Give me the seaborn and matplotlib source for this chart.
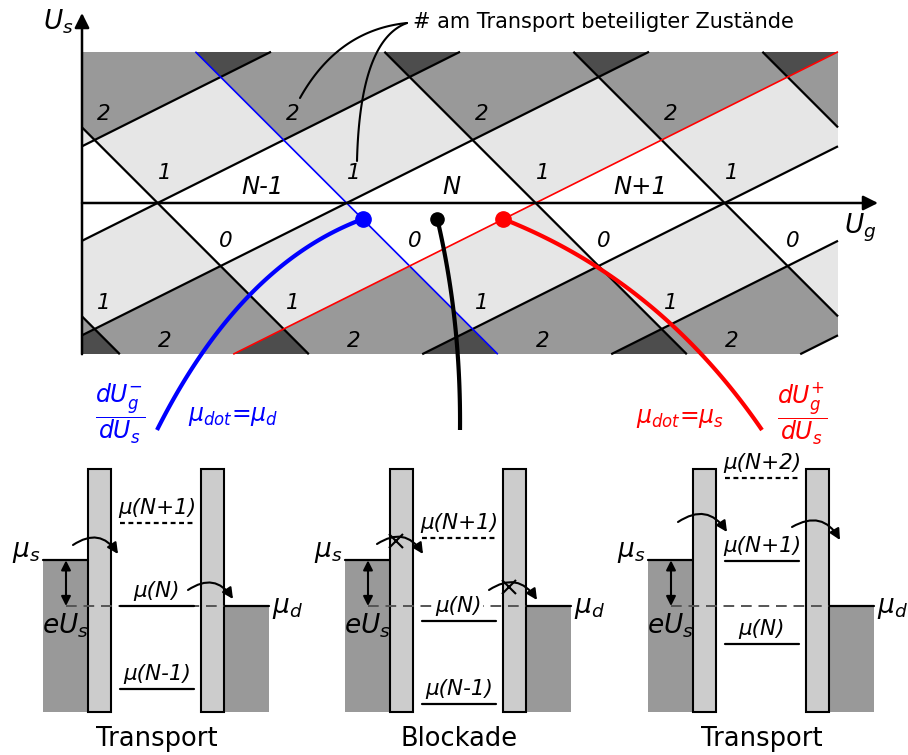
import numpy as np
import pandas as pd
import matplotlib
matplotlib.use("Agg")
import matplotlib.pyplot as plt
import seaborn as sns
from matplotlib.patches import Polygon, Rectangle, FancyArrowPatch

sns.set_theme(style="white")
plt.rcParams["font.family"] = ["DejaVu Sans"]
plt.rcParams["mathtext.fontset"] = "dejavusans"
plt.rcParams["text.color"] = "black"

# ---------------- stability diagram data (Ug, Us in units of one gate period) ----------------
degeneracy_ug = [-2.6, -1.6, -0.6, 0.4, 1.4, 2.4, 3.4, 4.4, 5.4]
ug_range = [0.0, 4.0]
us_range = [-0.8, 0.8]
slope_source = 0.5     # edges where mu_dot = mu_s
slope_drain = -1.0     # edges where mu_dot = mu_d
drain_edge_blue = 1.4  # highlighted mu_dot = mu_d edge
source_edge_red = 2.4  # highlighted mu_dot = mu_s edge
charge_labels = ["N-1", "N", "N+1"]
state_colors = {0: "#ffffff", 1: "#e6e6e6", 2: "#999999", 3: "#4d4d4d"}
probe_us = -0.085
probe_black_ug = 1.88

# ---------------- energy diagrams (energies in units of the charging energy) ----------------
panel_titles = ["Transport", "Blockade", "Transport"]
eU_s = 0.55
mu_N = [0.0, -0.18, -0.46]
panel_charges = [[-1, 0, 1], [-1, 0, 1], [0, 1, 2]]
panel_blocked = [False, True, False]

# ---------------- layout ----------------
X0, Y0, S = 82.0, 203.0, 189.0      # origin and pixel scale of stability diagram
E0, ES = 606.0, 83.0                # drain level and pixel scale of energy diagrams
panel_left = [43, 345, 648]


def px(ug, us):
    return X0 + S * np.asarray(ug, float), Y0 - S * np.asarray(us, float)


def ey(e):
    return E0 - ES * np.asarray(e, float)


def bezier(p0, p1, p2, n=80):
    t = np.linspace(0, 1, n)[:, None]
    p0, p1, p2 = map(np.asarray, (p0, p1, p2))
    pts = (1 - t) ** 2 * p0 + 2 * (1 - t) * t * p1 + t ** 2 * p2
    return pts[:, 0], pts[:, 1]


def n_states(ug, us):
    p = ug - us / slope_source
    q = ug - us / slope_drain
    lo, hi = min(p, q), max(p, q)
    return sum(1 for c in degeneracy_ug if lo < c < hi)


fig = plt.figure(figsize=(9.08, 7.55), dpi=100)
ax = fig.add_axes([0, 0, 1, 1])

# clip rectangle of the stability diagram
rx0, ry_top = px(ug_range[0], us_range[1])
rx1, ry_bot = px(ug_range[1], us_range[0])
clip = Rectangle((rx0, ry_top), rx1 - rx0, ry_bot - ry_top, transform=ax.transData,
                 fc="none", ec="none")
ax.add_patch(clip)

# shaded cells: number of charge states taking part in transport
c = degeneracy_ug
for i in range(len(c) - 1):
    for j in range(len(c) - 1):
        corners = [(c[i], c[j]), (c[i + 1], c[j]), (c[i + 1], c[j + 1]), (c[i], c[j + 1])]
        pts = []
        for p, q in corners:
            us = (q - p) / (1 / slope_source - 1 / slope_drain)
            ug = p + us / slope_source
            pts.append(px(ug, us))
        k = min(abs(i - j), 3)
        poly = Polygon(np.array(pts, float), closed=True, fc=state_colors[k], ec="none",
                       zorder=1)
        ax.add_patch(poly)
        poly.set_clip_path(clip)

# edge lines of the diamonds
rows = []
lid = 0
for cc in degeneracy_ug:
    for slope, skip in ((slope_source, source_edge_red), (slope_drain, drain_edge_blue)):
        if np.isclose(cc, skip):
            continue
        span = abs(us_range[1] / slope)
        a, b = max(ug_range[0], cc - span), min(ug_range[1], cc + span)
        if a >= b:
            continue
        for ug in (a, b):
            x, y = px(ug, slope * (ug - cc))
            rows.append({"x": float(x), "y": float(y), "line": lid})
        lid += 1
edges = pd.DataFrame(rows)
sns.lineplot(data=edges, x="x", y="y", units="line", estimator=None, sort=False,
             color="black", lw=1.6, solid_capstyle="butt", ax=ax, zorder=2)

for cc, slope, col in ((drain_edge_blue, slope_drain, "#0000ff"),
                       (source_edge_red, slope_source, "#ff0000")):
    span = abs(us_range[1] / slope)
    ugs = np.array([max(ug_range[0], cc - span), min(ug_range[1], cc + span)])
    x, y = px(ugs, slope * (ugs - cc))
    ax.plot(x, y, color=col, lw=1.2, solid_capstyle="butt", zorder=3)

# axes with arrows
ax.annotate("", xy=(878, Y0), xytext=(X0, Y0),
            arrowprops=dict(arrowstyle="-|>", color="black", lw=1.8, mutation_scale=22,
                            shrinkA=0, shrinkB=0), zorder=4)
ax.annotate("", xy=(X0, 13), xytext=(X0, ry_bot),
            arrowprops=dict(arrowstyle="-|>", color="black", lw=1.8, mutation_scale=22,
                            shrinkA=0, shrinkB=0), zorder=4)
ax.text(58, 22, r"$U_s$", fontsize=19, ha="center", va="center")
ax.text(860, 228, r"$U_g$", fontsize=19, ha="center", va="center")

# state-count labels around each degeneracy point
label_offsets = [(-0.286, 0.471), (0.037, 0.159), (0.36, -0.201), (-0.286, -0.529),
                 (0.037, -0.730)]
for cc in degeneracy_ug:
    for dx, us in label_offsets:
        ug = cc + dx
        if not (ug_range[0] < ug < ug_range[1]):
            continue
        x, y = px(ug, us)
        ax.text(x, y, str(n_states(ug, us)), fontsize=15.5, style="italic",
                ha="center", va="center", zorder=5)

# charge-state labels in the Coulomb diamonds
mids = [0.5 * (degeneracy_ug[k] + degeneracy_ug[k + 1]) for k in range(3, 6)]
for m, lab in zip(mids, charge_labels):
    x, y = px(m, 0.085)
    ax.text(x + 10, y, lab, fontsize=17.5, style="italic", ha="center", va="center",
            zorder=5)

# annotation of the state numbers
ax.text(413, 22, "# am Transport beteiligter Zustände", fontsize=15, ha="left",
        va="center")
for p0, p1 in (((300, 98), (338, 30)), ((357, 161), (360, 40))):
    x, y = bezier(p0, p1, (407, 23))
    ax.plot(x, y, color="black", lw=1.5, zorder=5)

# probe points and connectors to the energy diagrams
blue_ug = drain_edge_blue + probe_us / slope_drain
red_ug = source_edge_red + probe_us / slope_source
bx, by = px(blue_ug, probe_us)
kx, ky = px(probe_black_ug, probe_us)
qx, qy = px(red_ug, probe_us)
for (sx, sy), ctrl, end, col in (((bx, by), (240, 265), (157, 430), "#0000ff"),
                                 ((kx, ky), (461, 320), (460, 430), "black"),
                                 ((qx, qy), (660, 281), (762, 430), "#ff0000")):
    x, y = bezier((sx, sy), ctrl, end)
    ax.plot(x, y, color=col, lw=3, solid_capstyle="butt", zorder=6)
ax.plot([bx], [by], "o", color="#0000ff", ms=11, zorder=7)
ax.plot([kx], [ky], "o", color="black", ms=9.5, zorder=7)
ax.plot([qx], [qy], "o", color="#ff0000", ms=11, zorder=7)

ax.text(120, 414, r"$\dfrac{dU_g^{-}}{dU_s}$", fontsize=17, color="#0000ff",
        ha="center", va="center")
ax.text(233, 416, r"$\mu_{dot}$=$\mu_d$", fontsize=17, color="#0000ff",
        ha="center", va="center")
ax.text(680, 418, r"$\mu_{dot}$=$\mu_s$", fontsize=17, color="#ff0000",
        ha="center", va="center")
ax.text(802, 414, r"$\dfrac{dU_g^{+}}{dU_s}$", fontsize=17, color="#ff0000",
        ha="center", va="center")

# ---------------- energy diagrams ----------------
lead_w, bar_w, gap = 45, 23, 90
bar_top, bottom = 469, 712


def level_name(n):
    if n == 0:
        return "μ(N)"
    return f"μ(N{'+' if n > 0 else '-'}{abs(n)})"


for k, L in enumerate(panel_left):
    ys, yd = float(ey(eU_s)), float(ey(0.0))
    lb = L + lead_w
    rb = lb + bar_w + gap
    rl = rb + bar_w
    # leads
    ax.add_patch(Rectangle((L, ys), lead_w, bottom - ys, fc="#999999", ec="none", zorder=2))
    ax.add_patch(Rectangle((rl, yd), lead_w, bottom - yd, fc="#999999", ec="none", zorder=2))
    ax.plot([L, lb], [ys, ys], color="black", lw=1.6, zorder=3)
    ax.plot([rl, rl + lead_w], [yd, yd], color="black", lw=1.6, zorder=3)
    # dashed drain level
    ax.plot([L + 23, rl], [yd, yd], color="#555555", lw=1.4, dashes=(5.5, 3.5), zorder=4)
    # barriers
    for bx0 in (lb, rb):
        ax.add_patch(Rectangle((bx0, bar_top), bar_w, bottom - bar_top, fc="#cccccc",
                               ec="black", lw=1.5, zorder=3))
    # bias window arrow
    ax.annotate("", xy=(L + 23, yd), xytext=(L + 23, ys),
                arrowprops=dict(arrowstyle="<|-|>", color="black", lw=1.5,
                                mutation_scale=14, shrinkA=0, shrinkB=0), zorder=6)
    # dot levels
    for n in panel_charges[k]:
        e = mu_N[k] + n
        y = float(ey(e))
        ls = (0, (2.2, 1.6)) if e > eU_s + 0.02 else "-"
        ax.plot([L + 77, L + 151], [y, y], color="black", lw=1.6, linestyle=ls, zorder=5)
        ax.text(L + 114, y - 15, level_name(n), fontsize=15.5, style="italic",
                ha="center", va="center", zorder=5,
                bbox=dict(fc="white", ec="none", pad=0.6))
    # labels
    ax.text(L - 3, 552, r"$\mu_s$", fontsize=19, ha="right", va="center")
    ax.text(rl + lead_w + 3, yd + 2, r"$\mu_d$", fontsize=19, ha="left", va="center")
    ax.text(L + 22, 626, r"$eU_s$", fontsize=19, ha="center", va="center", zorder=6)
    ax.text(L + 114, 739, panel_titles[k], fontsize=18.5, ha="center", va="center")

# tunnelling arrows
tunnel = [
    [((73, 545), (118, 554)), ((188, 590), (233, 599))],
    [((377, 544), (423, 554)), ((489, 590), (537, 600))],
    [((678, 522), (727, 532)), ((792, 527), (840, 540))],
]
for k, arrows in enumerate(tunnel):
    for (a, b) in arrows:
        ax.add_patch(FancyArrowPatch(a, b, connectionstyle="arc3,rad=-0.5",
                                     arrowstyle="-|>", mutation_scale=16, lw=1.5,
                                     color="black", shrinkA=0, shrinkB=0, zorder=7))
    if panel_blocked[k]:
        for (a, b) in arrows:
            cx = 0.5 * (a[0] + b[0]) - 4
            cy = 0.5 * (a[1] + b[1]) - 8
            ax.plot([cx], [cy], marker="x", color="black", ms=10, mew=1.5, zorder=8)

ax.set_xlim(0, 908)
ax.set_ylim(755, 0)
ax.axis("off")
fig.savefig("out.png", dpi=100)
